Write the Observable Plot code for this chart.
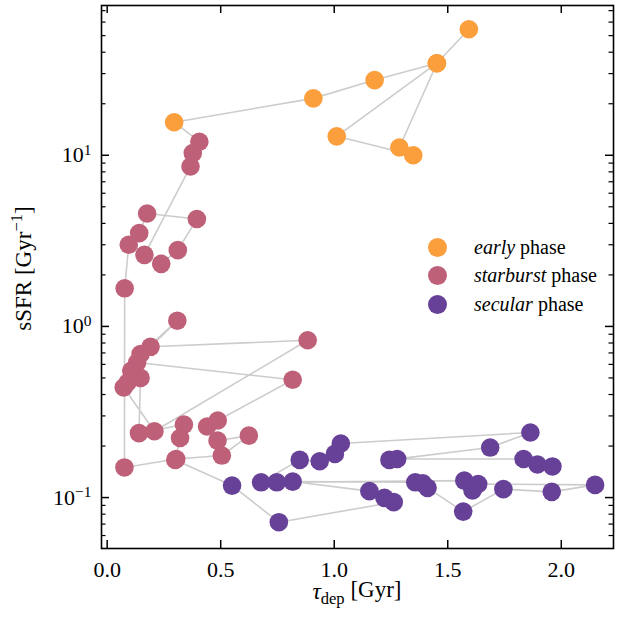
<!DOCTYPE html>
<html>
<head>
<meta charset="utf-8">
<script src="https://cdn.jsdelivr.net/npm/d3@7"></script>
<script src="https://cdn.jsdelivr.net/npm/@observablehq/plot@0.6"></script>
<style>
  body { margin: 0; background: #fff; }
  #wrap { position: relative; width: 617px; height: 620px; font-family: "Liberation Serif", "Times New Roman", serif; }
  .legend { position: absolute; left: 428px; top: 233px; font-size: 20px; color: #000; font-family: "Liberation Serif", serif; }
  .legend .row { display: flex; align-items: center; height: 28.5px; }
  .legend .sw { width: 19px; height: 19px; border-radius: 50%; margin-right: 27px; flex: none; }
</style>
</head>
<body>
<div id="wrap"></div>
<script>
// ---- data ----
const phases = ["early", "starburst", "secular"];
const phaseColors = ["#fb9e3c", "#bf6079", "#674197"];

const earlyTau  = [1.593, 1.452, 1.011, 1.348, 1.287, 1.452, 1.178, 0.908, 0.295];
const earlySSFR = [54.5, 34.5, 12.9, 10.0, 11.1, 34.5, 27.5, 21.5, 15.6];

const starburstTau  = [0.406, 0.377, 0.367, 0.164, 0.238, 0.311, 0.395, 0.176, 0.141, 0.095, 0.077,
                       0.076, 0.304, 0.505, 0.624, 0.486, 0.440, 0.487, 0.817, 0.132, 0.106, 0.090,
                       0.073, 0.208, 0.883, 0.191, 0.309, 0.147, 0.147, 0.140, 0.338, 0.321, 0.300];
const starburstSSFR = [12.0, 10.3, 8.6, 2.62, 2.32, 2.79, 4.24, 4.57, 3.51, 3.0, 1.67,
                       0.150, 0.168, 0.176, 0.23, 0.215, 0.26, 0.282, 0.488, 0.615, 0.55, 0.47,
                       0.44, 0.244, 0.83, 0.76, 1.08, 0.69, 0.50, 0.238, 0.267, 0.223, 0.166];

const secularTau  = [0.550, 0.756, 1.262, 1.221, 1.155, 0.817, 1.357, 1.390, 1.411, 1.568, 1.745,
                     1.958, 2.149, 1.634, 1.609, 1.573, 0.747, 0.678, 0.848, 0.936, 1.003, 1.029,
                     1.864, 1.687, 1.243, 1.277, 1.834, 1.895, 1.961];
const secularSSFR = [0.1175, 0.0718, 0.094, 0.0996, 0.109, 0.124, 0.1228, 0.121, 0.114, 0.0828, 0.112,
                     0.108, 0.1186, 0.120, 0.110, 0.1256, 0.1228, 0.1228, 0.166, 0.163, 0.180, 0.207,
                     0.240, 0.196, 0.166, 0.168, 0.168, 0.156, 0.152];

const xTickValues = [0.0, 0.5, 1.0, 1.5, 2.0];
const yMajorTicks = [0.1, 1, 10];
const yMajorLabels = ["10^−1", "10^0", "10^1"];
const yMinorTicks = [0.06, 0.07, 0.08, 0.09, 0.2, 0.3, 0.4, 0.5, 0.6, 0.7, 0.8, 0.9,
                     2, 3, 4, 5, 6, 7, 8, 9, 20, 30, 40, 50, 60, 70];

// ---- build table ----
const track = [];
earlyTau.forEach((t, i) => track.push({tau: t, ssfr: earlySSFR[i], phase: "early"}));
starburstTau.forEach((t, i) => track.push({tau: t, ssfr: starburstSSFR[i], phase: "starburst"}));
secularTau.forEach((t, i) => track.push({tau: t, ssfr: secularSSFR[i], phase: "secular"}));

const W = 617, H = 620;
const mL = 101, mR = 4, mT = 5, mB = 72;
const innerW = W - mL - mR, innerH = H - mT - mB;
const majorLen = 8, minorLen = 4.5;
const tickFont = 22;

const chart = Plot.plot({
  width: W, height: H,
  marginLeft: mL, marginRight: mR, marginTop: mT, marginBottom: mB,
  style: {fontFamily: "Liberation Serif, Times New Roman, serif", fontSize: tickFont + "px", background: "white", color: "black", overflow: "visible"},
  x: {domain: [-0.025, 2.23], label: null},
  y: {type: "log", domain: [0.0504, 75], label: null},
  color: {domain: phases, range: phaseColors},
  marks: [
    Plot.line(track, {x: "tau", y: "ssfr", stroke: "#cccccc", strokeWidth: 1.6}),
    Plot.dot(track, {x: "tau", y: "ssfr", fill: "phase", r: 9.3, stroke: "none"}),
    // inward ticks on all four sides
    Plot.tickX(xTickValues, {x: d => d, insetTop: innerH - majorLen, stroke: "black", strokeWidth: 1.5}),
    Plot.tickX(xTickValues, {x: d => d, insetBottom: innerH - majorLen, stroke: "black", strokeWidth: 1.5}),
    Plot.tickY(yMajorTicks, {y: d => d, insetRight: innerW - majorLen, stroke: "black", strokeWidth: 1.5}),
    Plot.tickY(yMajorTicks, {y: d => d, insetLeft: innerW - majorLen, stroke: "black", strokeWidth: 1.5}),
    Plot.tickY(yMinorTicks, {y: d => d, insetRight: innerW - minorLen, stroke: "black", strokeWidth: 1.2}),
    Plot.tickY(yMinorTicks, {y: d => d, insetLeft: innerW - minorLen, stroke: "black", strokeWidth: 1.2}),
    Plot.axisX({ticks: xTickValues, tickSize: 0, tickPadding: 13, tickFormat: d => d.toFixed(1), label: null, fontSize: tickFont}),
    Plot.axisY({ticks: yMajorTicks, tickSize: 0, tickPadding: 10, tickFormat: d => yMajorLabels[yMajorTicks.indexOf(d)], label: null, fontSize: tickFont}),
    Plot.frame({stroke: "black", strokeWidth: 1.6})
  ]
});

document.getElementById("wrap").appendChild(chart);

// superscripts in the y tick labels
d3.select(chart).selectAll('g[aria-label="y-axis tick label"] text').each(function () {
  const t = d3.select(this);
  const [base, exp] = t.text().split("^");
  t.text(null);
  t.append("tspan").text(base);
  t.append("tspan").attr("dy", "-0.5em").attr("font-size", "0.7em").text(exp);
});

// axis titles
const xs = chart.scale("x"), ys = chart.scale("y");
const cx = (xs.range[0] + xs.range[1]) / 2;
const cy = (ys.range[0] + ys.range[1]) / 2;
const svg = d3.select(chart);
const xl = svg.append("text").attr("x", cx).attr("y", H - 21)
  .attr("text-anchor", "middle").attr("font-size", 23).attr("fill", "black");
xl.append("tspan").attr("font-style", "italic").text("τ");
xl.append("tspan").attr("font-size", "0.72em").attr("dy", "0.28em").text("dep");
xl.append("tspan").attr("dy", "-0.28em").text(" [Gyr]");

const yl = svg.append("text").attr("transform", `translate(${31},${cy - 8}) rotate(-90)`)
  .attr("text-anchor", "middle").attr("font-size", 23).attr("fill", "black");
yl.append("tspan").text("sSFR [Gyr");
yl.append("tspan").attr("font-size", "0.72em").attr("dy", "-0.55em").text("−1");
yl.append("tspan").attr("dy", "0.4em").text("]");

// legend
const legend = document.createElement("div");
legend.className = "legend";
const names = ["early", "starburst", "secular"];
names.forEach((n, i) => {
  const row = document.createElement("div");
  row.className = "row";
  row.innerHTML = `<span class="sw" style="background:${phaseColors[i]}"></span><span><i>${n}</i> phase</span>`;
  legend.appendChild(row);
});
document.getElementById("wrap").appendChild(legend);
</script>
</body>
</html>
